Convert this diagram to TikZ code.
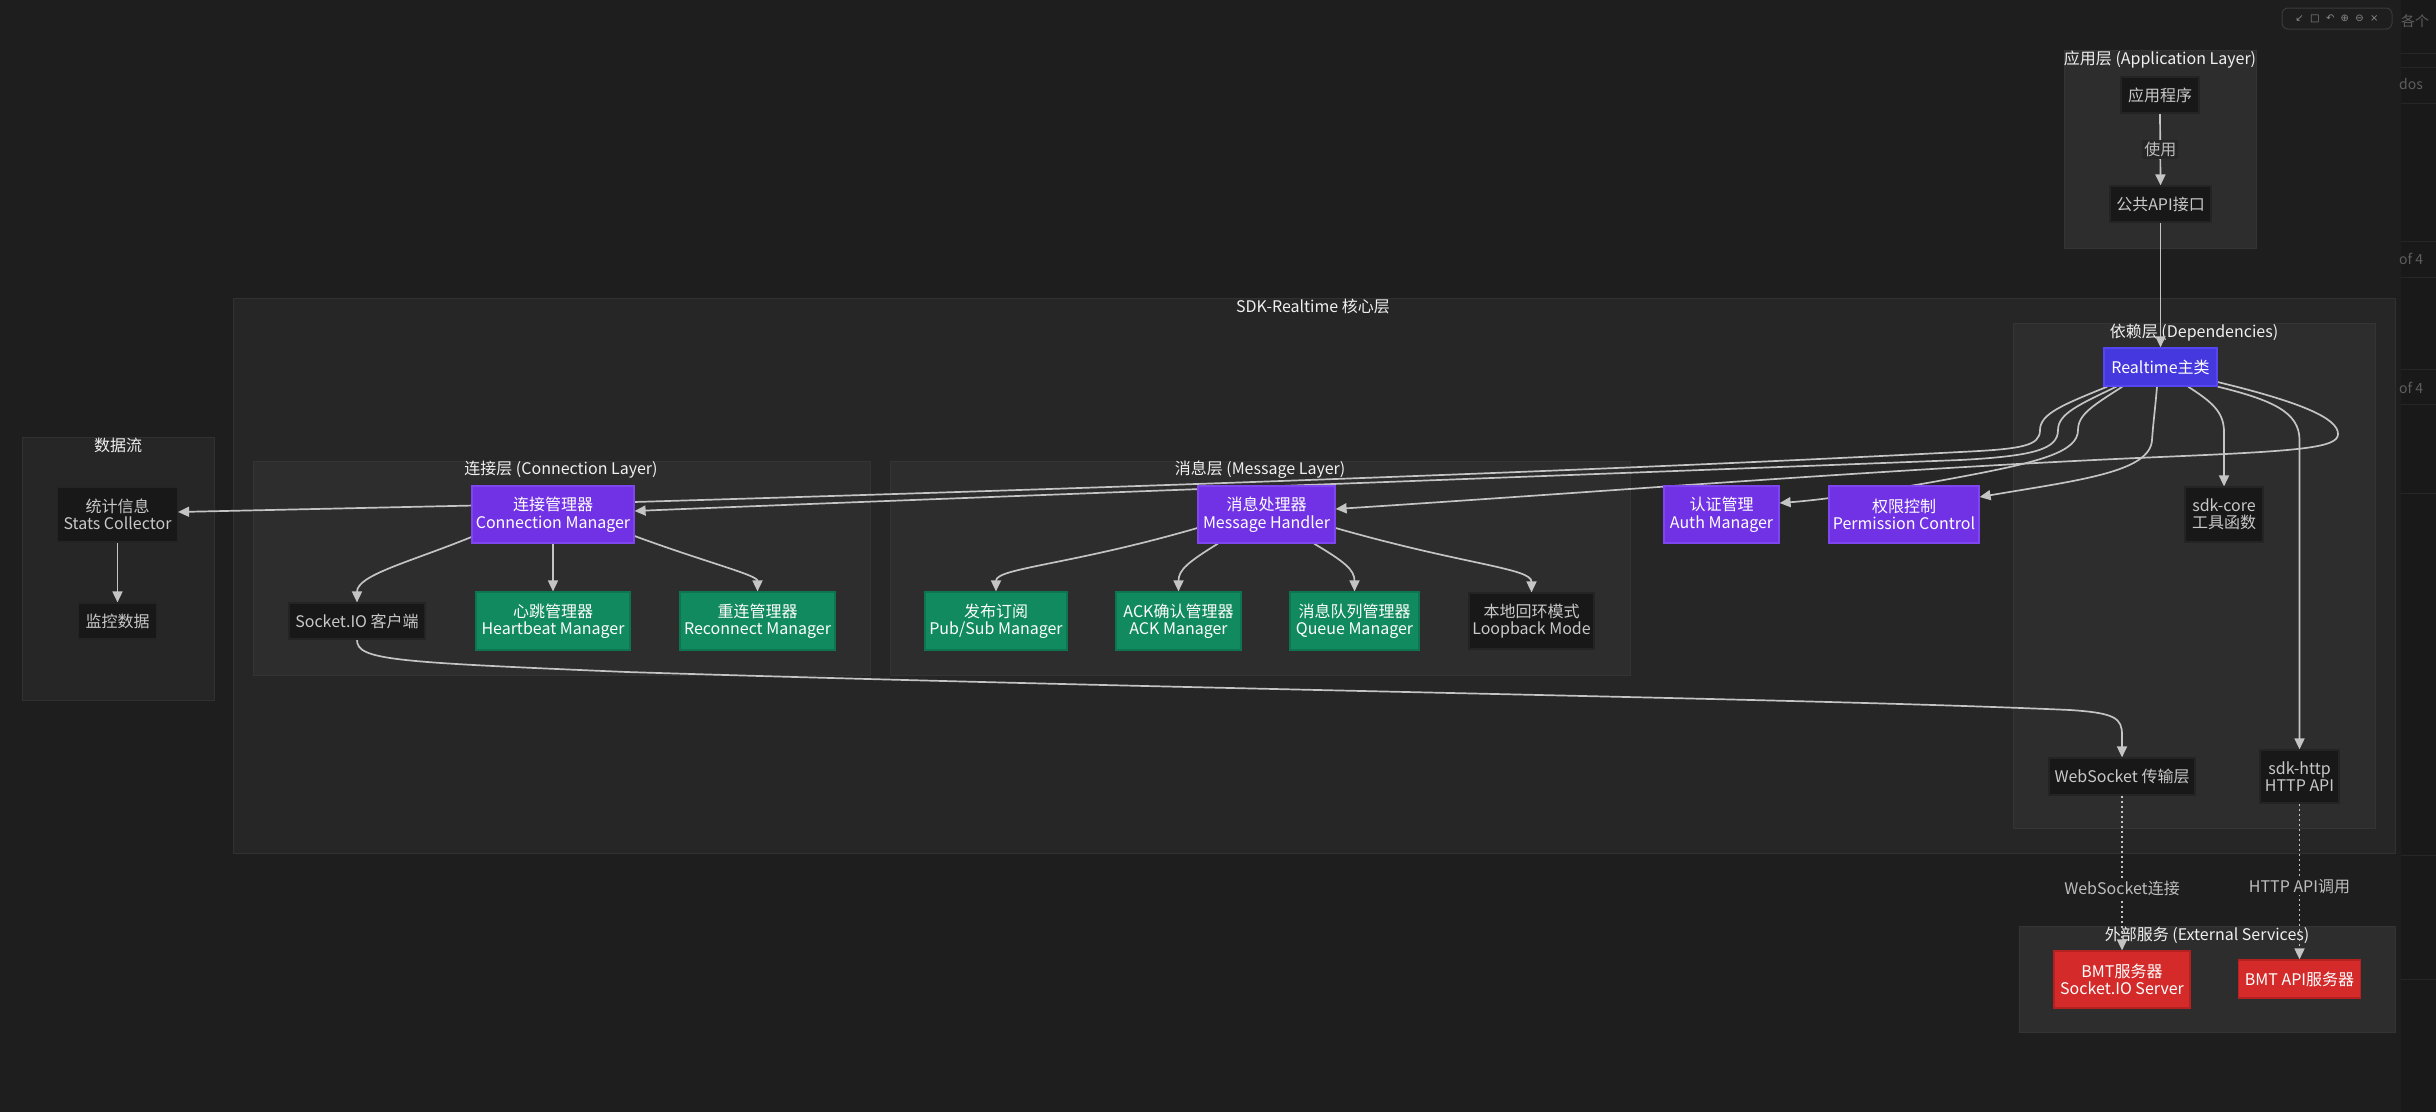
\documentclass[tikz,border=0pt]{standalone}
\usepackage{fontspec}
\setmainfont{Noto Sans CJK SC}
\newfontfamily\dejavu{DejaVu Sans}
\usetikzlibrary{arrows.meta}
\definecolor{bgc}{HTML}{1E1E1E}
\definecolor{stripc}{HTML}{191919}
\definecolor{stripl}{HTML}{262626}
\definecolor{stript}{HTML}{5E5E5E}
\definecolor{sdkc}{HTML}{262626}
\definecolor{sdkd}{HTML}{2F3232}
\definecolor{subc}{HTML}{2D2D2D}
\definecolor{subd}{HTML}{333535}
\definecolor{dkfill}{HTML}{181818}
\definecolor{dkdraw}{HTML}{242424}
\definecolor{dktext}{HTML}{C8C8C8}
\definecolor{pufill}{HTML}{7132E5}
\definecolor{pudraw}{HTML}{7F45EE}
\definecolor{rtfill}{HTML}{4538DE}
\definecolor{rtdraw}{HTML}{5546F0}
\definecolor{grfill}{HTML}{108A5E}
\definecolor{grdraw}{HTML}{0D7550}
\definecolor{rdfill}{HTML}{D42A2A}
\definecolor{rddraw}{HTML}{B52020}
\definecolor{titlec}{HTML}{F0F0F0}
\definecolor{labc}{HTML}{BDBDBD}
\definecolor{edgec}{HTML}{C4C4C4}
\definecolor{lblbg}{HTML}{262626}
\definecolor{tbdraw}{HTML}{3A3A3A}
\definecolor{tbtext}{HTML}{8A8A8A}
\pgfdeclarelayer{background}
\pgfdeclarelayer{edgelayer}
\pgfsetlayers{background,edgelayer,main}
\begin{document}
\begin{tikzpicture}[x=1pt,y=-1pt,
  fs/.style={font=\fontsize{16}{17.5}\selectfont},
  box/.style={rectangle, inner sep=0pt, align=center, fs, line width=1.2pt},
  wh/.style 2 args={minimum width=#1pt, minimum height=#2pt},
  dk/.style={box, fill=dkfill, draw=dkdraw, text=dktext},
  pu/.style={box, fill=pufill, draw=pudraw, text=white},
  rtb/.style={box, fill=rtfill, draw=rtdraw, text=white},
  gr/.style={box, fill=grfill, draw=grdraw, text=white},
  rd/.style={box, fill=rdfill, draw=rddraw, text=white},
  sgtitle/.style={fs, text=titlec, inner sep=0pt},
  sgbox/.style={fill=subc, draw=subd, line width=1pt},
  edge/.style={draw=edgec, line width=1.7pt, -{Triangle[length=11pt,width=10pt]}},
  dotedge/.style={edge, dash pattern=on 2pt off 3pt},
  elabel/.style={fs, text=labc, fill=lblbg, inner sep=2pt},
  wl/.style={fs, text=labc, fill=bgc, inner sep=2pt},
  striptext/.style={anchor=west, text=stript, inner sep=0pt, font=\fontsize{14}{14}\selectfont}
]
\useasboundingbox (0,0) rectangle (2436,1112);

\begin{pgfonlayer}{background}
  \fill[bgc] (0,0) rectangle (2436,1112);
  % right UI strip
  \fill[stripc] (2401,0) rectangle (2436,1112);
  \foreach \yy in {53,67,103,241,277,369,404,493,855,979}
    \draw[stripl, line width=1pt] (2401,\yy) -- (2436,\yy);
  \fill[sdkc, draw=sdkd, line width=1pt] (233,298) rectangle (2395,853);
  \fill[sdkc, draw=sdkd, line width=1pt] (22,437) rectangle (214,700);
  \path[sgbox] (2064,50) rectangle (2256,248);
  \path[sgbox] (253,461) rectangle (870,675);
  \path[sgbox] (890,461) rectangle (1630,675);
  \path[sgbox] (2013,323) rectangle (2375,828);
  \path[sgbox] (2019,926) rectangle (2395,1032);
  \node[sgtitle] (t1) at (1313,306) {SDK-Realtime 核心层};
  \node[sgtitle] (t2) at (118,445) {数据流};
  \node[sgtitle] (t3) at (2160,60) {应用层 (Application Layer)};
  \node[sgtitle] (t4) at (2194,333) {依赖层 (Dependencies)};
  \node[sgtitle] (t5) at (561,470) {连接层 (Connection Layer)};
  \node[sgtitle] (t6) at (1260,470) {消息层 (Message Layer)};
  \node[sgtitle] (t7) at (2207,935) {外部服务 (External Services)};
\end{pgfonlayer}

\node[striptext] (s1) at (2401,21) {各个};
\node[striptext] (s2) at (2399,84) {dos};
\node[striptext] (s3) at (2399,259) {of 4};
\node[striptext] (s4) at (2399,388) {of 4};
% toolbar
\draw[rounded corners=6pt, draw=tbdraw, line width=1pt, fill=bgc] (2282,8) rectangle (2392,29);
\node[text=tbtext, inner sep=0pt, font=\dejavu\fontsize{10}{10}\selectfont] (tb) at (2337,18.5) {↙\ \ □\ \ ↶\ \ ⊕\ \ ⊖\ \ ×};

% nodes
\node[dk, wh={78}{36}] (app) at (2160,95) {应用程序};
\node[dk, wh={101}{36}] (api) at (2160.5,204) {公共API接口};
\node[rtb, wh={113}{38}] (rt) at (2160.5,367) {Realtime主类};
\node[pu, wh={115}{57}] (auth) at (1721.5,514.5) {认证管理\\Auth Manager};
\node[pu, wh={150}{57}] (perm) at (1904,514.5) {权限控制\\Permission Control};
\node[dk, wh={78}{55}] (core) at (2224,514.5) {sdk-core\\工具函数};
\node[dk, wh={146}{37}] (ws) at (2122,776.5) {WebSocket 传输层};
\node[dk, wh={79}{53}] (http) at (2299.5,776.5) {sdk-http\\HTTP API};
\node[rd, wh={136}{57}] (bmt) at (2122,979.5) {BMT服务器\\Socket.IO Server};
\node[rd, wh={122}{38}] (bmtapi) at (2299.5,979) {BMT API服务器};
\node[dk, wh={120}{55}] (stats) at (117.5,514.5) {统计信息\\Stats Collector};
\node[dk, wh={78}{36}] (mon) at (117.5,621) {监控数据};
\node[pu, wh={162}{57}] (cm) at (553,514.5) {连接管理器\\Connection Manager};
\node[dk, wh={136}{36}] (sio) at (357,621) {Socket.IO 客户端};
\node[gr, wh={154}{58}] (hb) at (553,621) {心跳管理器\\Heartbeat Manager};
\node[gr, wh={155}{58}] (rc) at (757.5,621) {重连管理器\\Reconnect Manager};
\node[pu, wh={137}{57}] (mh) at (1266.5,514.5) {消息处理器\\Message Handler};
\node[gr, wh={142}{58}] (ps) at (996,621) {发布订阅\\Pub/Sub Manager};
\node[gr, wh={125}{58}] (ack) at (1178.5,621) {ACK确认管理器\\ACK Manager};
\node[gr, wh={129}{58}] (q) at (1354.5,621) {消息队列管理器\\Queue Manager};
\node[dk, wh={125}{56}] (lb) at (1531.5,621) {本地回环模式\\Loopback Mode};

\begin{pgfonlayer}{edgelayer}
  \draw[edge] (app.south) -- node[elabel] (l1) {使用} (api.north);
  \draw[edge] (api.south) -- (rt.north);
  \draw[edge] ([xshift=27.5pt]rt.south) .. controls (2212,402) and (2224,412) .. (2224,432) -- (core.north);
  \draw[edge] (rt.south east) .. controls (2272,400) and (2299.5,412) .. (2299.5,440) -- (http.north);
  % loop to message handler
  \draw[edge] ([yshift=-15pt]rt.east) .. controls (2300,402) and (2338,418) .. (2338,434) .. controls (2338,448) and (2300,451) .. (2160,457) .. controls (1900,468) and (1600,492) .. ([yshift=5.5pt]mh.east);
  % to stats collector (behind connection manager)
  \draw[edge] ([xshift=4pt]rt.south west) .. controls (2062,405) and (2040,414) .. (2040,430) .. controls (2040,446) and (2022,449) .. (1960,452) .. controls (1500,476) and (900,494) .. (634,502) -- ([yshift=2.5pt]stats.east);
  % to connection manager
  \draw[edge] ([xshift=13pt]rt.south west) .. controls (2078,405) and (2058,414) .. (2058,430) .. controls (2058,449) and (2035,456) .. (1960,460) .. controls (1500,478) and (900,500) .. ([yshift=3.5pt]cm.east);
  % to auth
  \draw[edge] ([xshift=19pt]rt.south west) .. controls (2094,405) and (2078,414) .. (2078,430) .. controls (2078,452) and (2040,462) .. (1960,477) .. controls (1880,492) and (1820,500) .. ([yshift=11.5pt]auth.east);
  % to permission
  \draw[edge] ([xshift=-3.5pt]rt.south) .. controls (2155,410) and (2153,425) .. (2152,440) .. controls (2150,472) and (2080,480) .. ([yshift=17.5pt]perm.east);
  % connection layer
  \draw[edge] ([yshift=-22.5pt]cm.west) .. controls (410,562) and (357,575) .. (sio.north);
  \draw[edge] (cm.south) -- (hb.north);
  \draw[edge] ([yshift=-21.5pt]cm.east) .. controls (705,562) and (757.5,575) .. (rc.north);
  \draw[edge] (stats.south) -- (mon.north);
  \draw[edge] (sio.south) .. controls (357,660) and (390,662) .. (627,672) .. controls (1200,690) and (1800,698) .. (2070,710) .. controls (2115,713) and (2122,718) .. (2122,735) -- (ws.north);
  % message layer
  \draw[edge] ([yshift=-13.5pt]mh.west) .. controls (1070,565) and (996,568) .. (ps.north);
  \draw[edge] ([xshift=-48.5pt]mh.south) .. controls (1188,562) and (1178.5,570) .. (ack.north);
  \draw[edge] ([xshift=47.5pt]mh.south) .. controls (1345,562) and (1354.5,570) .. (q.north);
  \draw[edge] ([yshift=-13.5pt]mh.east) .. controls (1465,565) and (1531.5,568) .. (lb.north);
  % external
  \draw[dotedge] (ws.south) -- node[wl, pos=0.6] (l2) {WebSocket连接} (bmt.north);
  \draw[dotedge] (http.south) -- node[wl, pos=0.53] (l3) {HTTP API调用} (bmtapi.north);
\end{pgfonlayer}
\end{tikzpicture}
\end{document}
